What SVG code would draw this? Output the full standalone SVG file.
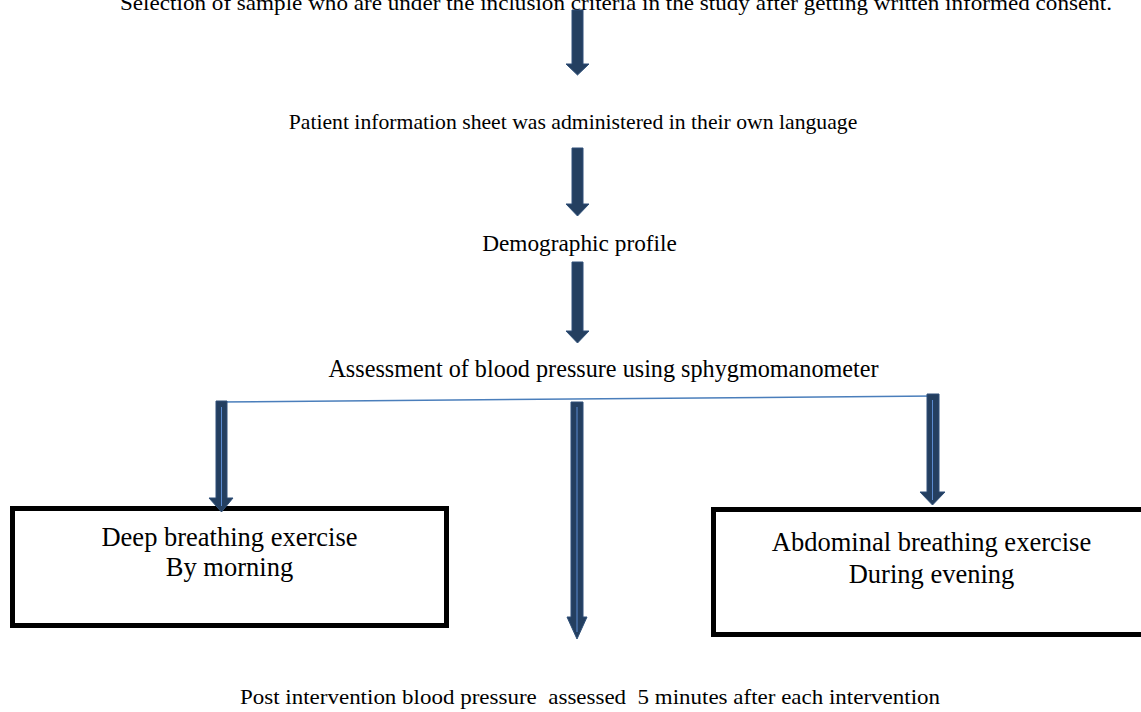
<svg xmlns="http://www.w3.org/2000/svg" width="1141" height="712" viewBox="0 0 1141 712">
<style>
.t{font-family:"Liberation Serif","Times New Roman",serif;fill:#000;text-anchor:middle;white-space:pre}
.flow{font-size:22px}
.box{font-size:26.5px}
.arrow{fill:#243f60;stroke:#2e4f78;stroke-width:1}
.inner{stroke:#5b8bd0;stroke-width:1;fill:none}
.frame{fill:#fff;stroke:#000;stroke-width:5}
</style>
<rect width="1141" height="712" fill="#fff"/>
<g id="step1"><text class="t flow" x="616" y="10" textLength="992" lengthAdjust="spacingAndGlyphs">Selection of sample who are under the inclusion criteria in the study after getting written informed consent.</text></g>
<g id="step2"><text class="t flow" x="573" y="129" style="font-size:21.7px">Patient information sheet was administered in their own language</text></g>
<g id="step3"><text class="t flow" x="579.5" y="251" style="font-size:23.3px">Demographic profile</text></g>
<g id="step4"><text class="t flow" x="603.5" y="377" style="font-size:24.2px">Assessment of blood pressure using sphygmomanometer</text></g>
<g id="box-left"><rect class="frame" x="12.5" y="508.5" width="434" height="117"/>
<text class="t box" x="229.5" y="546">Deep breathing exercise</text>
<text class="t box" x="229.5" y="576">By morning</text></g>
<g id="box-right"><rect class="frame" x="713.5" y="509.5" width="440" height="125"/>
<text class="t box" x="931.5" y="551">Abdominal breathing exercise</text>
<text class="t box" x="931.5" y="583">During evening</text></g>
<g id="step5"><text class="t flow" x="590" y="704" textLength="700" lengthAdjust="spacingAndGlyphs" xml:space="preserve">Post intervention blood pressure  assessed  5 minutes after each intervention</text></g>
<g id="connectors">
<polygon class="arrow" points="572,10 583,10 583,64 589,64 577.5,75 566,64 572,64"/>
<polygon class="arrow" points="572,148 583,148 583,204 589,204 577.5,216 566,204 572,204"/>
<polygon class="arrow" points="572,262 583,262 583,331 589,331 577.5,343 566,331 572,331"/>
<line x1="217" y1="402" x2="935" y2="396" stroke="#4a7ebb" stroke-width="1.5"/>
<polygon class="arrow" points="216,401 227,401 227,498 233,498 221.5,512 209,498 216,498"/>
<line class="inner" x1="221.5" y1="407" x2="221.5" y2="506"/>
<polygon class="arrow" points="571,402 583,402 583,617 587,617 577,639 567,617 571,617"/>
<line class="inner" x1="577" y1="407" x2="577" y2="632"/>
<polygon class="arrow" points="927,394 939,394 939,492 945,492 932.5,505 920,492 927,492"/>
<line class="inner" x1="932.5" y1="400" x2="932.5" y2="500"/>
</g>
</svg>
